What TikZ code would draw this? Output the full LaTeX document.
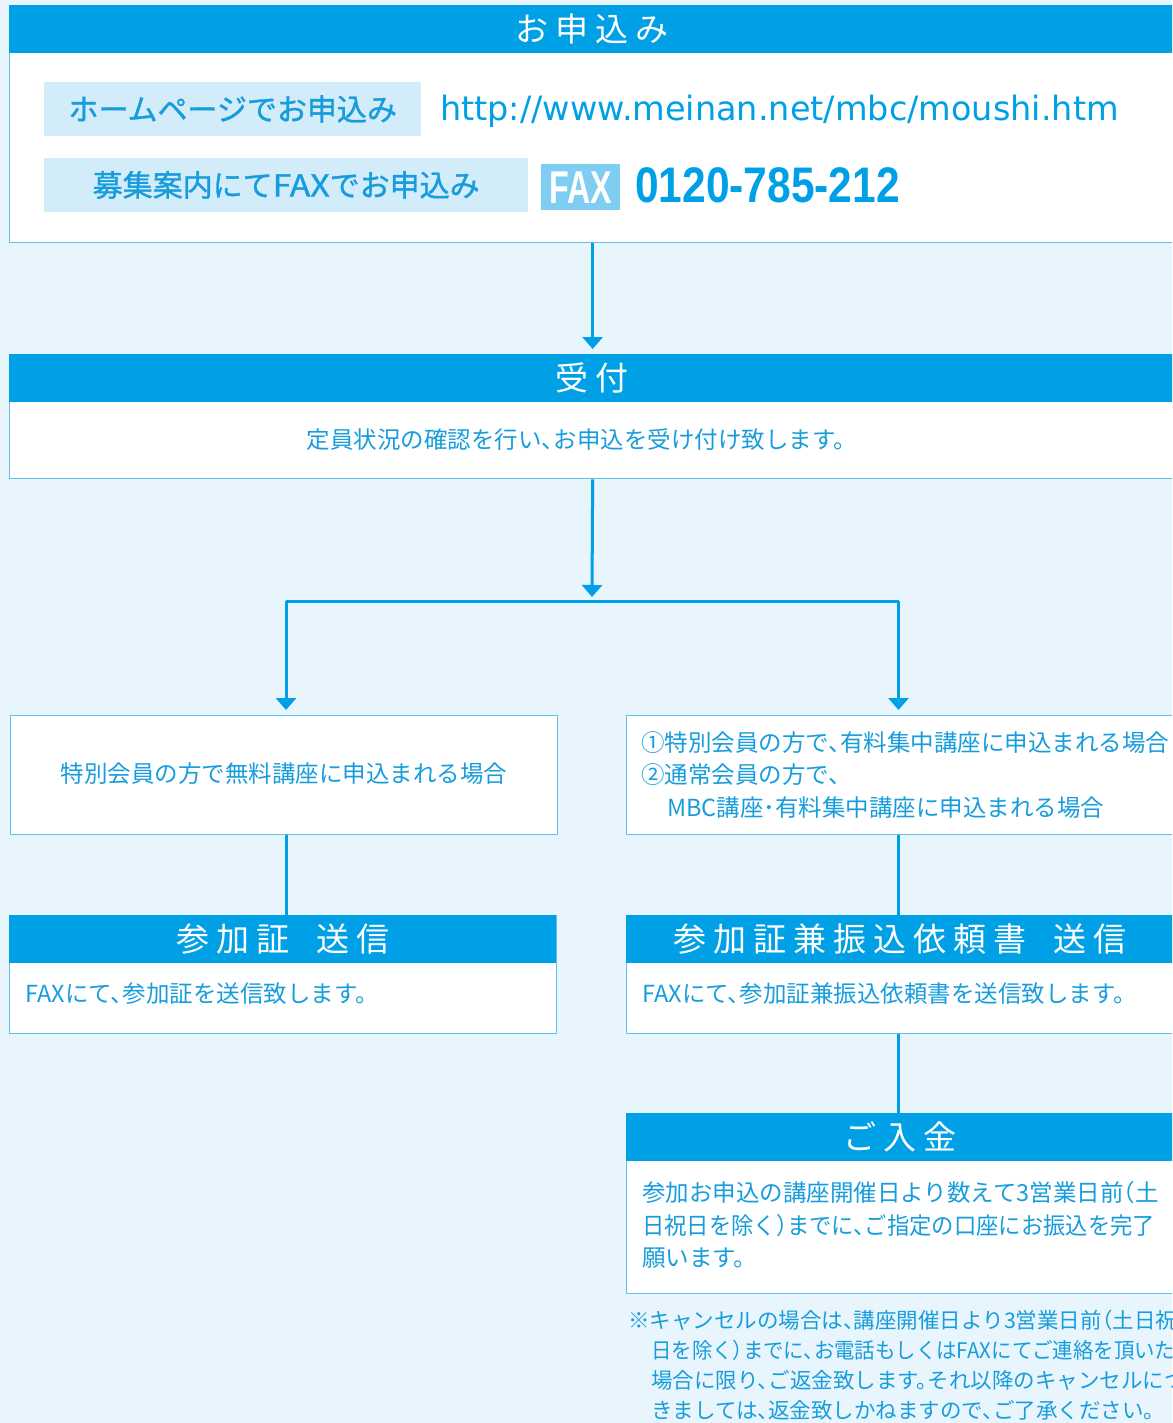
\documentclass[tikz,border=0pt]{standalone}
\usepackage{fontspec}
\setmainfont{Liberation Sans}
\newfontfamily\jp[RawFeature=+halt]{Noto Sans CJK JP}
\newfontfamily\jpb[RawFeature=+halt,FakeBold=1.2]{Noto Sans CJK JP}
\newfontfamily\urlfont{DejaVu Sans}
\usetikzlibrary{arrows.meta}
\definecolor{hblue}{HTML}{00A0E6}
\definecolor{tblue}{HTML}{179DDC}
\definecolor{bgblue}{HTML}{E8F5FC}
\definecolor{pill}{HTML}{D3ECF9}
\definecolor{bord}{HTML}{5EC2EF}
\definecolor{faxbg}{HTML}{80CDF2}
\newcommand\hsp{\hspace{7pt}}
\newcommand\narrowline[1]{\scalebox{0.95}[1]{#1}}
\begin{document}
\begin{tikzpicture}[x=1pt,y=-1pt,
  panel/.style={draw=bord,line width=1.3pt,fill=white,inner sep=0pt,anchor=north west},
  band/.style={fill=hblue,inner sep=0pt,anchor=north west,minimum height=48pt,
    text=white,font=\jp\fontsize{33}{36}\selectfont},
  btext/.style={text=tblue,inner sep=0pt,font=\jp\fontsize{23.5}{32.5}\selectfont},
  ntext/.style={text=tblue,inner sep=0pt,font=\jp\fontsize{21.5}{30}\selectfont},
  pillbox/.style={fill=pill,inner sep=0pt,anchor=west,minimum height=54pt,
    text=tblue,font=\jpb\fontsize{30}{34}\selectfont},
  conn/.style={draw=hblue,line width=3pt},
  arr/.style={conn,-{Triangle[width=20pt,length=12pt]},shorten >=5pt}]
\useasboundingbox (0,0) rectangle (1172,1423);
\clip (0,0) rectangle (1172,1423);
\fill[bgblue] (0,0) rectangle (1172,1423);

% ---- application panel
\node[panel,minimum width=1166pt,minimum height=237pt] (apply) at (9,5) {};
\node[band,minimum width=1166pt] (applyH) at (9,5) {お\hsp 申\hsp 込\hsp み};
\node[pillbox,minimum width=377pt] (web) at (44,109) {ホームページでお申込み};
\node[anchor=base west,inner sep=0pt,text=hblue,font=\urlfont\fontsize{33.5}{36}\selectfont] (url) at (440,121) {http://www.meinan.net/mbc/moushi.htm};
\node[pillbox,minimum width=484pt] (faxapp) at (44,185) {募集案内にて\scalebox{1.12}[1]{FAX}でお申込み};
\node[fill=faxbg,anchor=north west,minimum width=79pt,minimum height=46pt,inner sep=0pt,text=white] (faxB) at (541,164) {\fontsize{46}{46}\selectfont\bfseries\scalebox{0.7}[1]{FAX}};
\node[anchor=west,inner sep=0pt,text=hblue] (tel) at (635,185.5) {\fontsize{50}{50}\selectfont\bfseries\scalebox{0.85}[1]{0120-785-212}};

% ---- reception panel
\node[panel,minimum width=1166pt,minimum height=124pt] (recv) at (9,354) {};
\node[band,minimum width=1166pt] (recvH) at (9,354) {受\hsp 付};
\node[btext] (recvT) at (576,440) {定員状況の確認を行い、お申込を受け付け致します。};

% ---- cases
\node[panel,minimum width=547pt,minimum height=119pt] (caseA) at (10,715) {};
\node[btext] (caseAT) at (284,774) {特別会員の方で無料講座に申込まれる場合};
\node[panel,minimum width=548pt,minimum height=119pt] (caseB) at (626,715) {};
\node[btext,anchor=west,align=left] (caseBT) at (641,775) {①特別会員の方で、有料集中講座に申込まれる場合\\②通常会員の方で、\\\hspace*{26pt}MBC講座･有料集中講座に申込まれる場合};

% ---- sending
\node[panel,minimum width=547pt,minimum height=118pt] (sendA) at (9,915) {};
\node[band,minimum width=547pt] (sendAH) at (9,915) {参\hsp 加\hsp 証\hspace{27pt}送\hsp 信};
\node[btext,anchor=west] (sendAT) at (25,994) {FAXにて、参加証を送信致します。};
\node[panel,minimum width=548pt,minimum height=118pt] (sendB) at (626,915) {};
\node[band,minimum width=548pt] (sendBH) at (626,915) {参\hsp 加\hsp 証\hsp 兼\hsp 振\hsp 込\hsp 依\hsp 頼\hsp 書\hspace{27pt}送\hsp 信};
\node[btext,anchor=west] (sendBT) at (642,994) {FAXにて、参加証兼振込依頼書を送信致します。};

% ---- payment
\node[panel,minimum width=548pt,minimum height=180pt] (pay) at (626,1113) {};
\node[band,minimum width=548pt] (payH) at (626,1113) {ご\hsp 入\hsp 金};
\node[btext,anchor=west,align=left] (payT) at (642,1225) {参加お申込の講座開催日より数えて3営業日前（土\\\narrowline{日祝日を除く）までに、ご指定の口座にお振込を完了}\\願います。};

\node[ntext,anchor=west,align=left] (note) at (628,1365) {※キャンセルの場合は、講座開催日より3営業日前（土日祝\\\hspace*{23pt}\narrowline{日を除く）までに、お電話もしくはFAXにてご連絡を頂いた}\\\hspace*{23pt}場合に限り、ご返金致します。それ以降のキャンセルにつ\\\hspace*{23pt}きましては、返金致しかねますので、ご了承ください。};

% ---- connectors
\coordinate (jc) at (592,601);
\coordinate (jl) at (286,601);
\coordinate (jr) at (898.5,601);
\draw[arr] (apply.south) -- (recv.north);
\draw[arr,shorten >=0pt] (recv.south) -- ([yshift=4pt]jc);
\draw[conn] (jl) -- (jr);
\draw[arr] (jl) -- (jl |- caseA.north);
\draw[arr] (jr) -- (jr |- caseB.north);
\draw[conn] (caseA.south -| jl) -- (sendA.north -| jl);
\draw[conn] (caseB.south -| jr) -- (sendB.north -| jr);
\draw[conn] (sendB.south -| jr) -- (pay.north -| jr);
\end{tikzpicture}
\end{document}
